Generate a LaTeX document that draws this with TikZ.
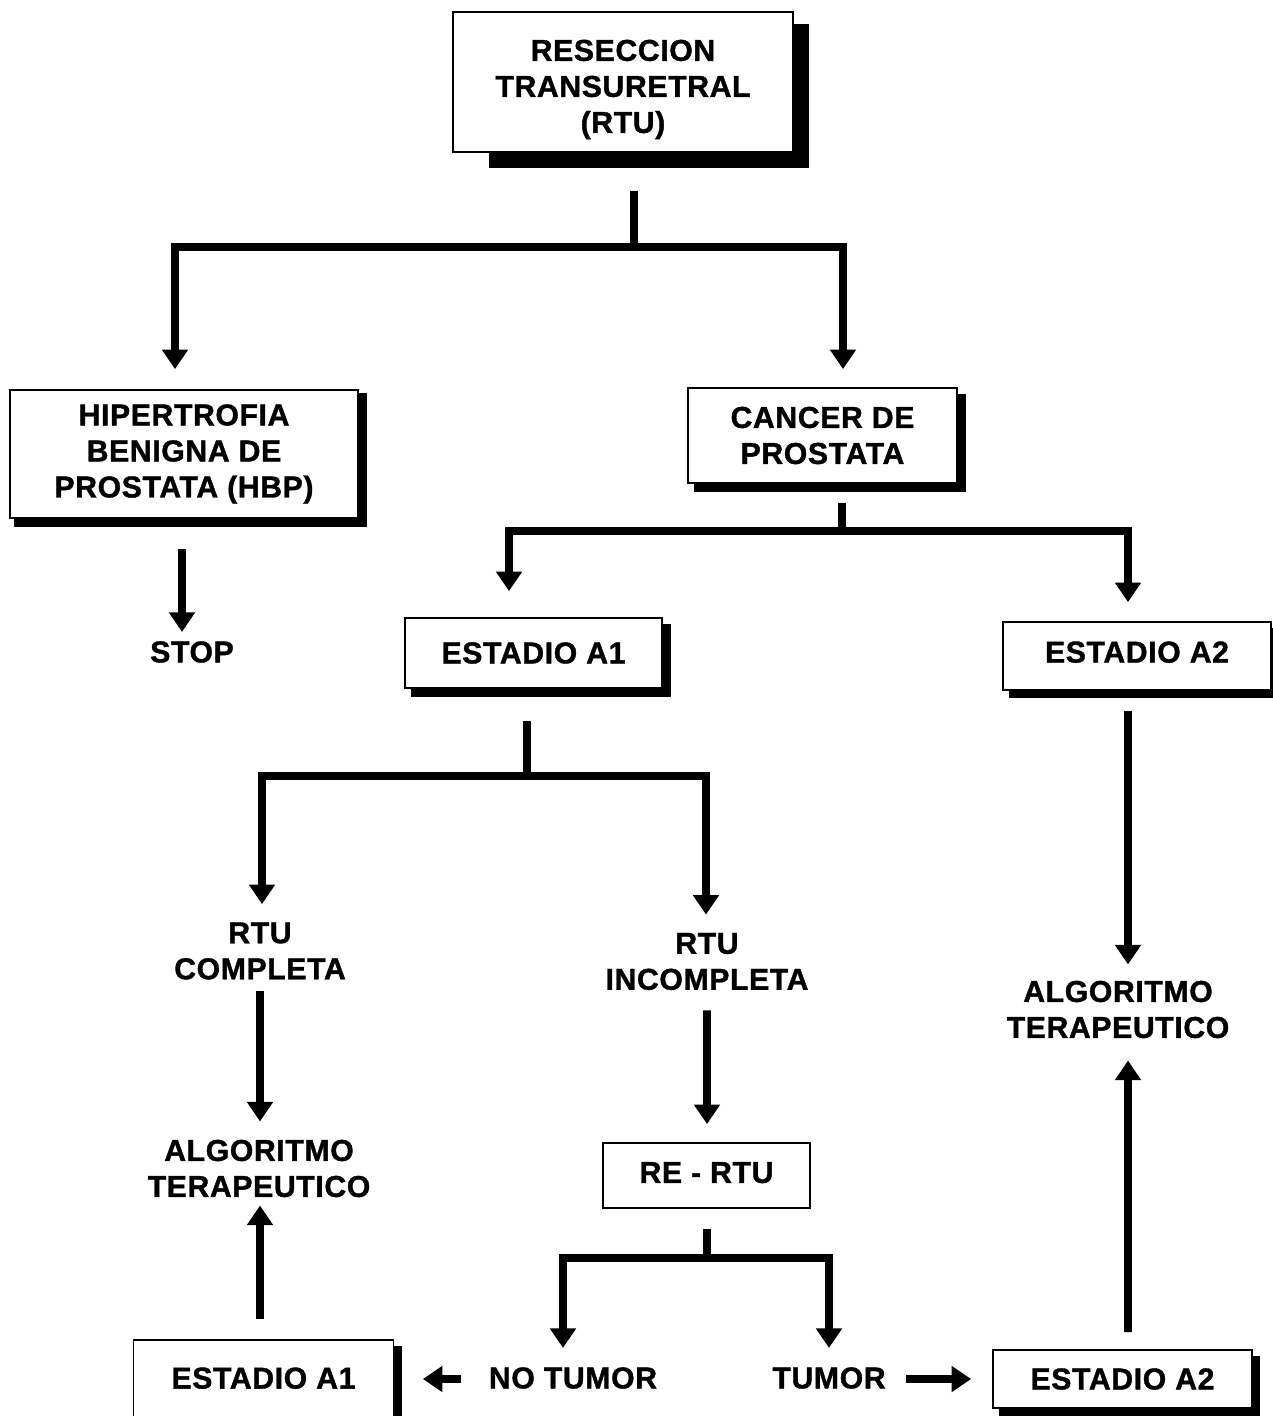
\documentclass[tikz,border=0pt]{standalone}
\usepackage{fontspec}
\setmainfont{Liberation Sans}[BoldFeatures={FakeBold=1.2,LetterSpace=2}]
\usetikzlibrary{arrows.meta,calc}
\newcommand\pxu{0.02cm}
\newcommand\lblfont{\fontsize{17.2}{20.5}\selectfont\bfseries}
\tikzset{
  box/.style={draw, line width=1pt, fill=white, inner sep=0pt, align=center, font=\lblfont},
  txt/.style={inner sep=0pt, align=center, font=\lblfont},
  ln/.style={line width=4.4pt, line join=miter, line cap=butt},
  arr/.style={ln, -{Triangle[length=0.39cm,width=0.5cm]}},
}
\newcommand\boxshadow[4]{%
  \fill ($(#1.north east)+(0,#2)$) rectangle ($(#1.south east)+(#4,#4)$);
  \fill ($(#1.south west)+(#3,0)$) rectangle ($(#1.south east)+(#4,#4)$);}
\begin{document}
\begin{tikzpicture}[x=0.02cm,y=-0.02cm]
\useasboundingbox (0,0) rectangle (1272,1416);
% boxes
\node[box, minimum width=340*\pxu, minimum height=140*\pxu] (rtu) at (623,82) {\rule{0pt}{0.72cm}RESECCION\\TRANSURETRAL\\(RTU)};
\node[box, minimum width=348*\pxu, minimum height=128*\pxu] (hbp) at (184,454) {HIPERTROFIA\\BENIGNA DE\\PROSTATA (HBP)};
\node[box, minimum width=269*\pxu, minimum height=95*\pxu] (canc) at (822.5,435.5) {CANCER DE\\PROSTATA};
\node[box, minimum width=257*\pxu, minimum height=70*\pxu] (ea1) at (533.5,653) {ESTADIO A1};
\node[box, minimum width=268*\pxu, minimum height=68*\pxu] (ea2) at (1137,656) {ESTADIO A2\rule[-0.16cm]{0pt}{0.16cm}};
\node[box, minimum width=207*\pxu, minimum height=65*\pxu] (rertu) at (706.5,1175.5) {RE - RTU\rule[-0.12cm]{0pt}{0.12cm}};
\node[box, minimum width=260*\pxu, minimum height=80*\pxu] (eb1) at (263.5,1380) {ESTADIO A1\rule[-0.08cm]{0pt}{0.08cm}};
\node[box, minimum width=259*\pxu, minimum height=58*\pxu] (eb2) at (1122.5,1379) {ESTADIO A2};
% shadows
\boxshadow{rtu}{13}{37}{15}
\boxshadow{hbp}{4}{5}{8}
\boxshadow{canc}{7}{7}{8}
\boxshadow{ea1}{7}{7}{8}
\boxshadow{ea2}{7}{7}{7}
\boxshadow{eb1}{7}{7}{8}
\boxshadow{eb2}{7}{7}{7}
% plain labels
\node[txt] (stop) at (192,652) {STOP};
\node[txt] (rtuc) at (260,951) {RTU\\COMPLETA};
\node[txt] (rtui) at (707,961.5) {RTU\\INCOMPLETA};
\node[txt] (algl) at (259,1168.5) {ALGORITMO\\TERAPEUTICO};
\node[txt] (algr) at (1118,1009.5) {ALGORITMO\\TERAPEUTICO};
\node[txt] (notumor) at (573,1378) {NO TUMOR};
\node[txt] (tumor) at (829,1378) {TUMOR};
% connectors
\coordinate (j1) at ($(rtu.south)+(11,94)$);
\draw[ln] ($(rtu.south)+(11,38)$) -- (j1);
\draw[arr] (j1) -| ($(hbp.north)+(-9,-20)$);
\draw[arr] (j1) -| ($(canc.north)+(20.5,-18)$);
\coordinate (j2) at ($(canc.south)+(19.5,47)$);
\draw[ln] ($(canc.south)+(19.5,19)$) -- (j2);
\draw[arr] (j2) -| ($(ea1.north)+(-24.5,-26)$);
\draw[arr] (j2) -| ($(ea2.north)+(-9,-19)$);
\coordinate (j3) at ($(ea1.south)+(-6.5,87)$);
\draw[ln] ($(ea1.south)+(-6.5,32)$) -- (j3);
\draw[arr] (j3) -| ($(rtuc.north)+(2,-18)$);
\draw[arr] (j3) -| ($(rtui.north)+(-1,-18)$);
\draw[arr] ($(hbp.south)+(-2,30)$) -- ($(stop.north)+(-10,-9)$);
\draw[arr] ($(rtuc.south)+(0,11)$) -- ($(algl.north)+(1,-18)$);
\draw[arr] ($(eb1.north)+(-3.5,-20)$) -- ($(algl.south)+(1,8)$);
\draw[arr] ($(rtui.south)+(0,20)$) -- ($(rertu.north)+(0.5,-18)$);
\coordinate (j4) at ($(rertu.south)+(0.5,49)$);
\draw[ln] ($(rertu.south)+(0.5,20)$) -- (j4);
\draw[arr] (j4) -| ($(notumor.north)+(-10,-19)$);
\draw[arr] (j4) -| ($(tumor.north)+(0,-19)$);
\draw[arr] ($(notumor.west)+(-28,1)$) -- ($(eb1.east)+(28.5,-1)$);
\draw[arr] ($(tumor.east)+(20,1)$) -- ($(eb2.west)+(-21,0)$);
\draw[arr] ($(eb2.north)+(5.5,-17)$) -- ($(algr.south)+(10,22)$);
\draw[arr] ($(ea2.south)+(-9,20)$) -- ($(algr.north)+(10,-16)$);
\end{tikzpicture}
\end{document}
